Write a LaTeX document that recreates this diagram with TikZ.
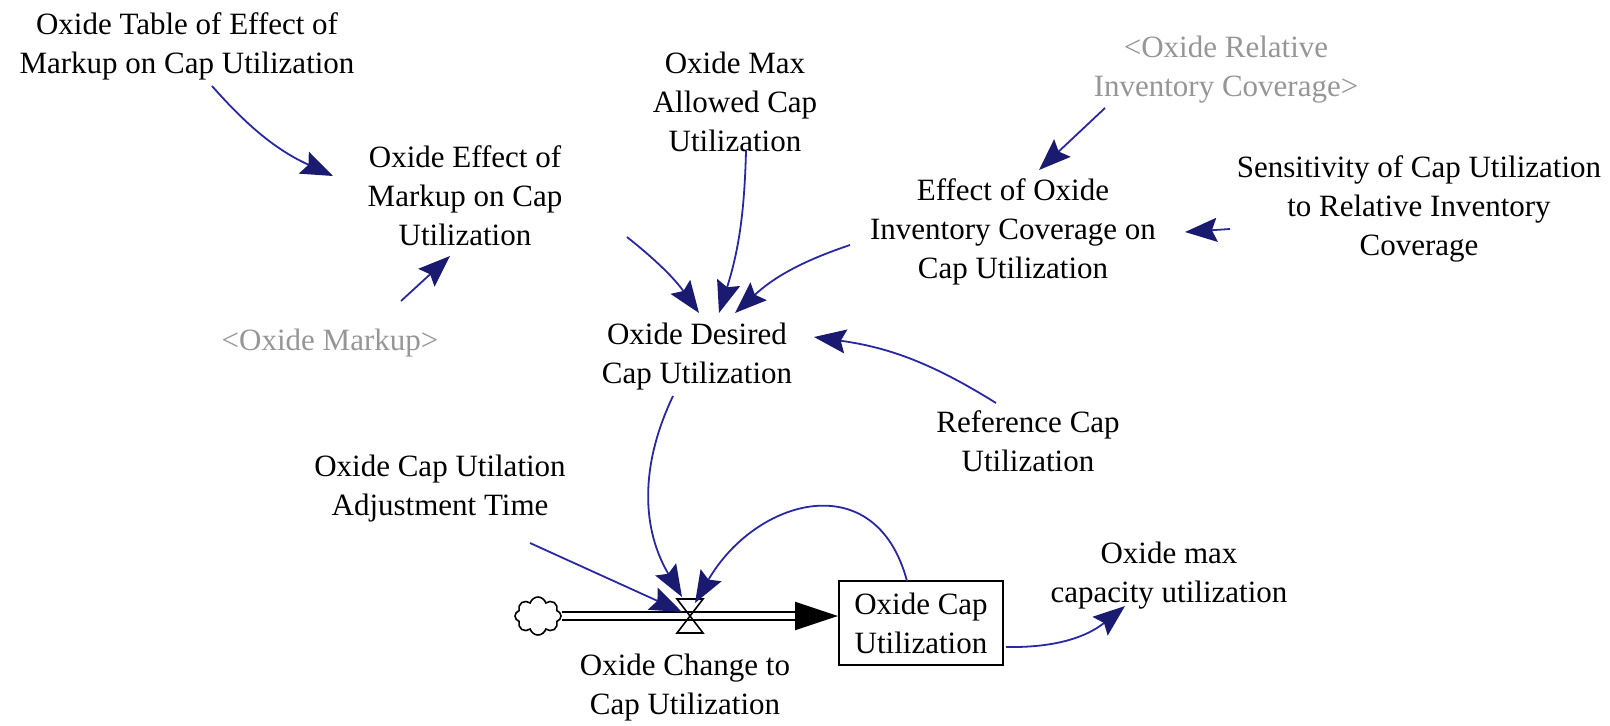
\documentclass[tikz,border=0pt]{standalone}
\usepackage{fontspec}
\setmainfont{Liberation Serif}
\usetikzlibrary{arrows.meta,calc,positioning,shapes.symbols}
\definecolor{vsblue}{RGB}{40,40,165}
\definecolor{vsnavy}{RGB}{26,26,112}
\definecolor{vsgrey}{RGB}{150,150,150}

\begin{document}
\begin{tikzpicture}[x=.5pt,y=.5pt,font=\fontsize{15.5}{19.5}\selectfont,
      v/.style={align=center,inner sep=2pt},
      sv/.style={v,text=vsgrey},
      lvl/.style={v,draw,line width=1pt,minimum width=82pt,minimum height=42pt},
      a/.style={-{Stealth[length=16pt,width=12pt,inset=2.5pt,color=vsnavy]},vsblue,line width=.9pt},
      pipe/.style={draw,double=white,double distance=3pt,line width=1pt}]
  \useasboundingbox (0,0) rectangle (1610,-725);
  % auxiliaries
  \node[v] (tab) at (187,-46) {Oxide Table of Effect of\\Markup on Cap Utilization};
  \node[v] (effmk) at (465,-196) {Oxide Effect of\\Markup on Cap\\Utilization};
  \node[v] (maxcap) at (735,-102) {Oxide Max\\Allowed Cap\\Utilization};
  \node[sv] (relinv) at (1226,-70) {<Oxide Relative\\Inventory Coverage>};
  \node[v] (effinv) at (1013,-232) {Effect of Oxide\\Inventory Coverage on\\Cap Utilization};
  \node[v] (sens) at (1419,-209) {Sensitivity of Cap Utilization\\to Relative Inventory\\Coverage};
  \node[sv] (markup) at (330,-343) {<Oxide Markup>};
  \node[v] (desired) at (697,-357) {Oxide Desired\\Cap Utilization};
  \node[v] (refcap) at (1028,-441) {Reference Cap\\Utilization};
  \node[v] (adjtime) at (440,-489) {Oxide Cap Utilation\\Adjustment Time};
  \node[v] (maxutil) at (1169,-576) {Oxide max\\capacity utilization};
  % stock and flow
  \node[lvl] (stock) at (921,-623) {Oxide Cap\\Utilization};
  \node[cloud,draw,cloud puffs=8,aspect=1.2,minimum width=23pt,minimum height=19pt,
        inner sep=0pt,line width=.8pt] (src) at (538,-616) {};
  \coordinate (valve) at (690,-616);
  \node[v] (chg) at (685,-688) {Oxide Change to\\Cap Utilization};
  \coordinate (pend) at ($(stock.west |- valve)+(-43,0)$);
  \draw[pipe] (src.east) -- (pend);
  \draw[-{Triangle[length=21.5pt,width=14pt]},line width=1pt] (pend) -- (stock.west |- valve);
  \draw[line width=.8pt] ($(valve)+(-13,17)$) -- ++(26,0) -- ++(-26,-34) -- ++(26,0) -- cycle;
  % links
  \draw[a] ($(tab)+(25,-40)$) to[bend right=12] ($(effmk)+(-132,20)$);
  \draw[a] ($(markup)+(71,42)$) -- ($(effmk)+(-15,-60)$);
  \draw[a] ($(effmk)+(162,-41)$) to[bend left=8] ($(desired)+(2,44)$);
  \draw[a] ($(maxcap)+(11,-49)$) to[bend left=8] ($(desired)+(22,44)$);
  \draw[a] ($(effinv)+(-163,-13)$) to[bend right=12] ($(desired)+(38,44)$);
  \draw[a] ($(relinv)+(-121,-38)$) -- ($(effinv)+(26,62)$);
  \draw[a] ($(sens)+(-189,-20)$) -- ($(effinv)+(172,0)$);
  \draw[a] ($(refcap)+(-32,38)$) to[bend right=12] ($(desired)+(117,20)$);
  \draw[a] ($(desired)+(-24,-39)$) to[bend right=28] ($(valve)+(-8,19)$);
  \draw[a] ($(adjtime)+(90,-54)$) -- ($(valve)+(-8,4)$);
  \draw[a] ($(stock)+(-14,42)$) to[out=105,in=60,looseness=1.45] ($(valve)+(5,13)$);
  \draw[a] ($(stock)+(85,-24)$) to[bend right=20] ($(maxutil)+(-44,-30)$);
\end{tikzpicture}
\end{document}
